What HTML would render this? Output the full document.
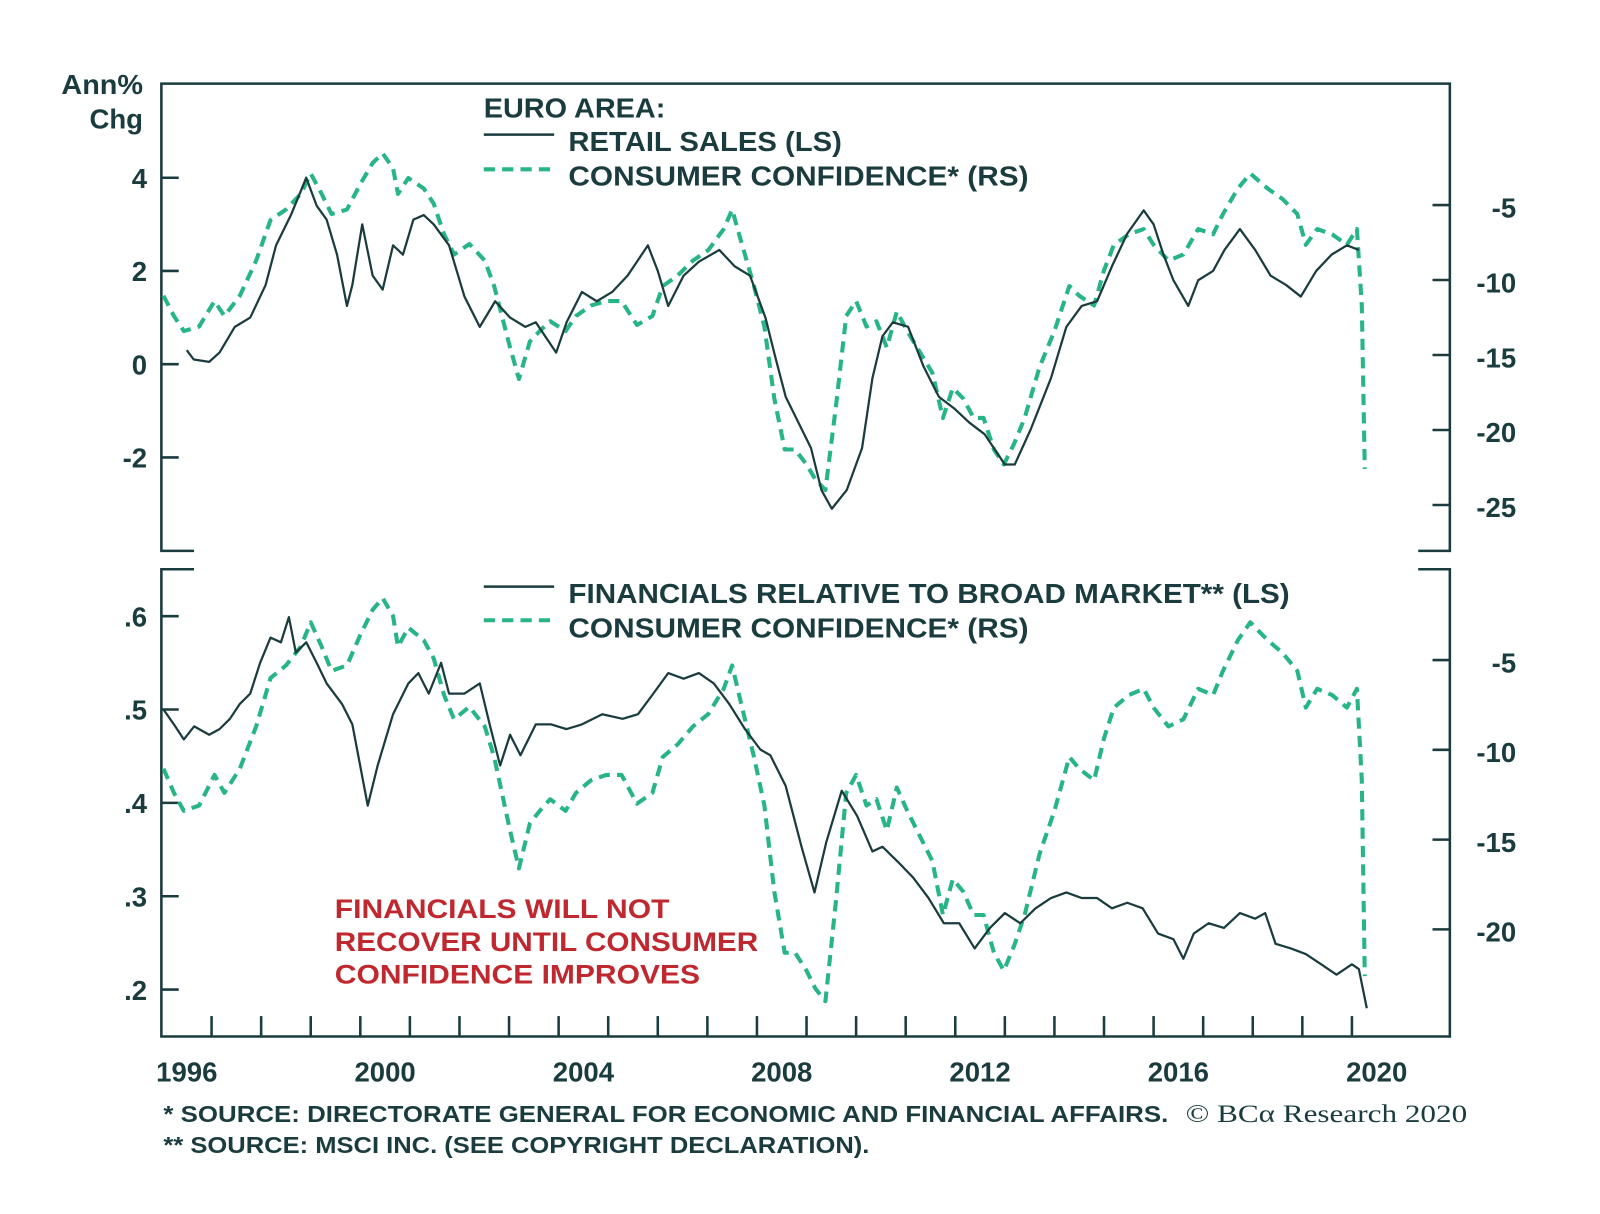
<!DOCTYPE html>
<html><head><meta charset="utf-8"><style>
html,body{margin:0;padding:0;background:#fff;}
svg{display:block;}
text{font-family:"Liberation Sans",sans-serif;fill:#1b3c3e;font-weight:bold;}
</style></head><body>
<svg id="chart" width="1600" height="1214" viewBox="0 0 1568 1190" xmlns="http://www.w3.org/2000/svg">
<g id="frame" stroke="#1b3c3e" stroke-width="2.5" fill="none">
  <path d="M190,540 H158 V82 H1421 V540 H1390"/>
  <path d="M190,558 H158 V1016 H1421 V558 H1390"/>
</g>
<g id="ticks"></g>
<g id="series"></g>
<text x="140" y="92" font-size="27" text-anchor="end" textLength="80" lengthAdjust="spacingAndGlyphs">Ann%</text>
<text x="140" y="126" font-size="27" text-anchor="end">Chg</text>
<g font-size="27">
  <text x="474" y="115" textLength="178" lengthAdjust="spacingAndGlyphs">EURO AREA:</text>
  <line x1="474" y1="132" x2="543" y2="132" stroke="#1b3c3e" stroke-width="2.5"/>
  <text x="557" y="148" textLength="268" lengthAdjust="spacingAndGlyphs">RETAIL SALES (LS)</text>
  <line x1="474" y1="166" x2="543" y2="166" stroke="#27b586" stroke-width="4" stroke-dasharray="11,7"/>
  <text x="557" y="182" textLength="451" lengthAdjust="spacingAndGlyphs">CONSUMER CONFIDENCE* (RS)</text>
</g>
<g font-size="27">
  <line x1="474" y1="575" x2="543" y2="575" stroke="#1b3c3e" stroke-width="2.5"/>
  <text x="557" y="591" textLength="707" lengthAdjust="spacingAndGlyphs">FINANCIALS RELATIVE TO BROAD MARKET** (LS)</text>
  <line x1="474" y1="608" x2="543" y2="608" stroke="#27b586" stroke-width="4" stroke-dasharray="11,7"/>
  <text x="557" y="625" textLength="451" lengthAdjust="spacingAndGlyphs">CONSUMER CONFIDENCE* (RS)</text>
</g>
<g font-size="26">
  <text x="328" y="900" textLength="328" lengthAdjust="spacingAndGlyphs" style="fill:#c0282f">FINANCIALS WILL NOT</text>
  <text x="328" y="932" textLength="415" lengthAdjust="spacingAndGlyphs" style="fill:#c0282f">RECOVER UNTIL CONSUMER</text>
  <text x="328" y="964" textLength="358" lengthAdjust="spacingAndGlyphs" style="fill:#c0282f">CONFIDENCE IMPROVES</text>
</g>
<g font-size="23">
  <text x="160" y="1100" textLength="985" lengthAdjust="spacingAndGlyphs">*  SOURCE: DIRECTORATE GENERAL FOR ECONOMIC AND FINANCIAL AFFAIRS.</text>
  <text x="1162" y="1100" textLength="276" lengthAdjust="spacingAndGlyphs" style="font-family:'Liberation Serif',serif;font-weight:normal;font-size:25px">© BCα Research 2020</text>
  <text x="160" y="1130" textLength="692" lengthAdjust="spacingAndGlyphs">** SOURCE: MSCI INC. (SEE COPYRIGHT DECLARATION).</text>
</g>
</svg>
<script>
const retailYears=[1996.5,1996.64,1996.95,1997.16,1997.47,1997.78,1998.09,1998.3,1998.6,1998.91,1999.12,1999.32,1999.53,1999.73,1999.84,2000.04,2000.25,2000.45,2000.66,2000.86,2001.07,2001.28,2001.48,2001.79,2002.1,2002.41,2002.72,2003.02,2003.33,2003.54,2003.95,2004.16,2004.47,2004.77,2005.08,2005.39,2005.8,2006.0,2006.21,2006.52,2006.83,2007.24,2007.55,2007.86,2008.17,2008.37,2008.58,2008.79,2009.09,2009.3,2009.51,2009.81,2010.12,2010.33,2010.53,2010.74,2011.05,2011.36,2011.67,2011.98,2012.28,2012.59,2013.0,2013.2,2013.52,2013.93,2014.24,2014.55,2014.86,2015.16,2015.47,2015.8,2016.0,2016.2,2016.4,2016.7,2016.9,2017.2,2017.43,2017.74,2018.05,2018.36,2018.67,2018.97,2019.28,2019.59,2019.9,2020.14];
const retailValues=[0.3,0.1,0.05,0.25,0.8,1.0,1.7,2.55,3.2,4.0,3.4,3.1,2.35,1.25,1.7,3.0,1.9,1.6,2.55,2.35,3.1,3.2,3.0,2.55,1.45,0.8,1.35,1.0,0.8,0.9,0.25,0.9,1.55,1.35,1.55,1.9,2.55,2.0,1.25,1.9,2.2,2.45,2.1,1.9,1.0,0.15,-0.7,-1.15,-1.8,-2.7,-3.1,-2.7,-1.8,-0.3,0.6,0.9,0.8,-0.05,-0.7,-0.95,-1.25,-1.5,-2.15,-2.15,-1.4,-0.3,0.8,1.25,1.35,2.1,2.8,3.3,3.0,2.35,1.8,1.25,1.8,2.0,2.45,2.9,2.45,1.9,1.7,1.45,2.0,2.35,2.55,2.45];
const ccYears=[1996.03,1996.24,1996.44,1996.75,1997.06,1997.26,1997.57,1997.9,1998.19,1998.5,1998.8,1999.0,1999.22,1999.42,1999.73,2000.0,2000.25,2000.45,2000.66,2000.76,2000.97,2001.28,2001.48,2001.69,2001.89,2002.2,2002.51,2002.7,2003.02,2003.2,2003.42,2003.62,2003.83,2004.14,2004.35,2004.65,2004.96,2005.27,2005.58,2005.89,2006.1,2006.4,2006.71,2007.02,2007.33,2007.5,2007.64,2007.94,2008.15,2008.35,2008.56,2008.77,2009.0,2009.18,2009.38,2009.59,2009.8,2010.0,2010.21,2010.41,2010.62,2010.82,2011.03,2011.23,2011.54,2011.75,2011.95,2012.16,2012.37,2012.57,2012.78,2012.98,2013.19,2013.4,2013.7,2014.0,2014.3,2014.5,2014.8,2015.0,2015.2,2015.5,2015.8,2016.0,2016.3,2016.6,2016.9,2017.2,2017.4,2017.7,2017.95,2018.3,2018.6,2018.9,2019.07,2019.3,2019.6,2019.9,2020.1,2020.2,2020.26];
const ccValues=[-11.05,-12.4,-13.4,-13.1,-11.4,-12.4,-11.05,-8.7,-6.0,-5.3,-4.25,-2.9,-4.25,-5.6,-5.3,-3.6,-2.2,-1.55,-2.55,-4.25,-3.2,-3.9,-4.9,-6.95,-8.3,-7.6,-8.7,-10.4,-14.5,-16.6,-14.1,-13.4,-12.75,-13.4,-12.4,-11.7,-11.4,-11.4,-13.0,-12.4,-10.4,-9.7,-8.7,-8.0,-6.6,-5.3,-6.95,-10.4,-13.1,-17.9,-21.3,-21.3,-22.3,-23.3,-24.0,-18.5,-12.4,-11.4,-13.1,-12.75,-14.5,-12.1,-13.4,-14.5,-16.2,-19.2,-17.2,-17.9,-19.2,-19.2,-21.3,-22.3,-20.9,-19.2,-15.8,-13.4,-10.4,-11.05,-11.7,-9.35,-7.65,-6.95,-6.6,-7.65,-8.7,-8.3,-6.6,-6.95,-5.6,-3.9,-2.9,-3.9,-4.6,-5.6,-7.65,-6.6,-6.95,-7.65,-6.6,-11.7,-22.6];
const finYears=[1996.03,1996.24,1996.44,1996.65,1996.95,1997.16,1997.37,1997.57,1997.78,1997.98,1998.19,1998.4,1998.56,1998.7,1998.91,1999.12,1999.32,1999.63,1999.84,2000.15,2000.35,2000.66,2000.97,2001.17,2001.38,2001.63,2001.79,2002.1,2002.41,2002.61,2002.82,2003.02,2003.23,2003.54,2003.85,2004.16,2004.47,2004.88,2005.29,2005.6,2005.91,2006.21,2006.52,2006.83,2007.13,2007.44,2007.76,2008.07,2008.27,2008.58,2008.9,2009.16,2009.4,2009.71,2010.02,2010.33,2010.53,2010.84,2011.15,2011.46,2011.77,2012.08,2012.39,2012.7,2013.0,2013.31,2013.62,2013.93,2014.24,2014.55,2014.86,2015.16,2015.47,2015.78,2016.09,2016.4,2016.6,2016.81,2017.11,2017.42,2017.74,2018.05,2018.25,2018.46,2018.77,2019.07,2019.38,2019.69,2020.0,2020.14,2020.3];
const finValues=[0.50,0.484,0.468,0.482,0.473,0.479,0.49,0.506,0.517,0.55,0.577,0.572,0.599,0.561,0.572,0.55,0.528,0.506,0.484,0.397,0.44,0.495,0.528,0.539,0.517,0.55,0.517,0.517,0.528,0.484,0.44,0.473,0.451,0.484,0.484,0.479,0.484,0.495,0.49,0.495,0.517,0.539,0.533,0.539,0.528,0.506,0.479,0.457,0.451,0.418,0.353,0.304,0.358,0.413,0.386,0.348,0.353,0.337,0.32,0.298,0.271,0.271,0.244,0.266,0.282,0.271,0.287,0.298,0.304,0.298,0.298,0.287,0.293,0.287,0.26,0.254,0.233,0.26,0.271,0.266,0.282,0.276,0.282,0.249,0.244,0.238,0.227,0.216,0.227,0.222,0.18];
const topLeftTicks=[4,2,0,-2];
const topRightTicks=[-5,-10,-15,-20,-25];
const botLeftTicks=[0.6,0.5,0.4,0.3,0.2];
const botRightTicks=[-5,-10,-15,-20];
const yearLabels=[1996,2000,2004,2008,2012,2016,2020];

const NS='http://www.w3.org/2000/svg';
const x=y=>353+(y-2000)*48.6;
const yTL=v=>357-v*45.7;
const yTR=v=>201+(-5-v)*14.7;
const yBL=v=>604+(0.6-v)*915;
const yBR=v=>647+(-5-v)*17.6;
const ticksG=document.getElementById('ticks');
const seriesG=document.getElementById('series');
function mk(tag,attrs,parent){const e=document.createElementNS(NS,tag);for(const k in attrs)e.setAttribute(k,attrs[k]);parent.appendChild(e);return e;}
function leftTicks(arr,fn,fmt,nm){arr.forEach(v=>{const l=mk('line',{x1:158,x2:175,y1:fn(v),y2:fn(v),stroke:'#1b3c3e','stroke-width':2.5},ticksG);


const t=mk('text',{x:144,y:fn(v)+10,'font-size':27,'text-anchor':'end'},ticksG);t.textContent=fmt(v);

});}
function rightTicks(arr,fn,nm){arr.forEach(v=>{const l=mk('line',{x1:1404,x2:1421,y1:fn(v),y2:fn(v),stroke:'#1b3c3e','stroke-width':2.5},ticksG);


const t=mk('text',{x:1486,y:fn(v)+12,'font-size':27,'text-anchor':'end'},ticksG);t.textContent=String(v);

});}
leftTicks(topLeftTicks,yTL,v=>v<0?'-'+(-v):String(v),'top-left-axis');
rightTicks(topRightTicks,yTR,'top-right-axis');
leftTicks(botLeftTicks,yBL,v=>'.'+Math.round(v*10),'bottom-left-axis');
rightTicks(botRightTicks,yBR,'bottom-right-axis');
for(let yr=1997;yr<=2020;yr++){const l=mk('line',{x1:x(yr),x2:x(yr),y1:996,y2:1016,stroke:'#1b3c3e','stroke-width':2.5},ticksG);

}
yearLabels.forEach(yr=>{const t=mk('text',{x:x(yr+0.5),y:1060,'font-size':27,'text-anchor':'middle'},ticksG);t.textContent=String(yr);

});
function line(xs,vs,fn,dash,nm){const d=xs.map((yr,i)=>(i?'L':'M')+x(yr).toFixed(1)+','+fn(vs[i]).toFixed(1)).join('');
const p=mk('path',{d:d,fill:'none',stroke:dash?'#27b586':'#1b3c3e','stroke-width':dash?4:2.2,'stroke-dasharray':dash?'11,7':'none','stroke-linejoin':'round'},seriesG);

}
line(ccYears,ccValues,yTR,true,'top-consumer-confidence-line');
line(retailYears,retailValues,yTL,false,'retail-sales-line');
line(ccYears,ccValues,yBR,true,'bottom-consumer-confidence-line');
line(finYears,finValues,yBL,false,'financials-relative-line');
</script>
</body></html>
